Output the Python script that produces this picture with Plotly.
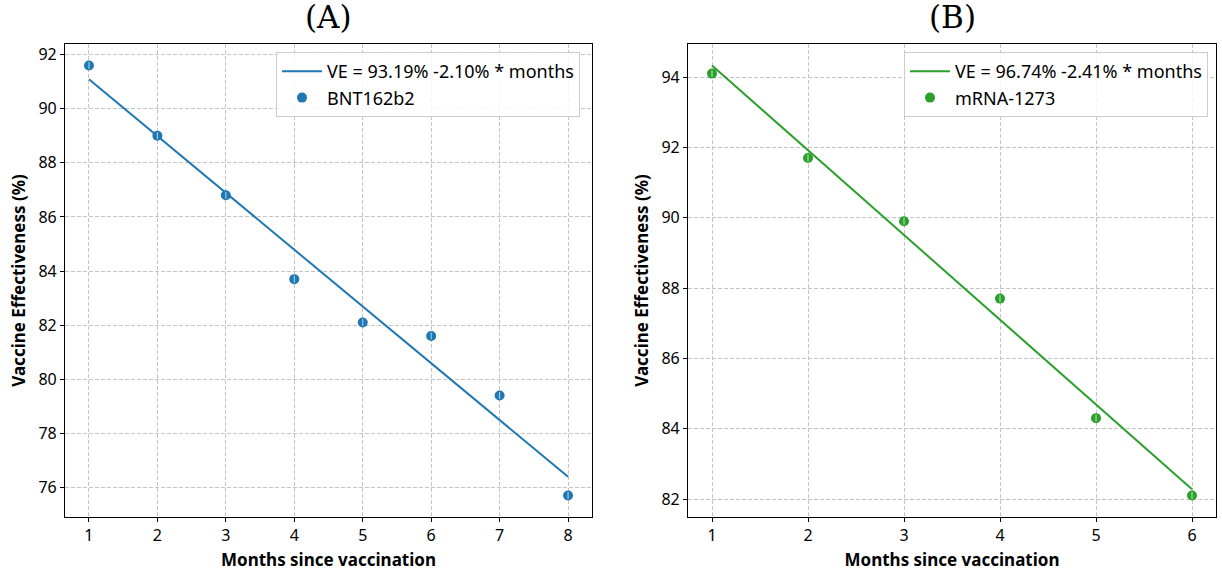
import plotly.graph_objects as go

# ---- data ----
months_a = [1, 2, 3, 4, 5, 6, 7, 8]
ve_a = [91.6, 89.0, 86.8, 83.7, 82.1, 81.6, 79.4, 75.7]
intercept_a, slope_a = 93.19, -2.10
label_a = "BNT162b2"

months_b = [1, 2, 3, 4, 5, 6]
ve_b = [94.1, 91.7, 89.9, 87.7, 84.3, 82.1]
intercept_b, slope_b = 96.74, -2.41
label_b = "mRNA-1273"

blue = "#1f77b4"
green = "#2ca02c"

W, H = 1222, 577
font_fam = "Noto Sans, DejaVu Sans, sans-serif"

fig = go.Figure()

def fit_line(xs, a, b):
    return [a + b * x for x in xs]

def add_panel(xs, ys, a, b, color, label, xa, ya, leg):
    fig.add_trace(go.Scatter(
        x=xs, y=fit_line(xs, a, b), mode="lines",
        line=dict(color=color, width=2),
        name=f"VE = {a:.2f}% {b:.2f}% * months",
        xaxis=xa, yaxis=ya, legend=leg))
    fig.add_trace(go.Scatter(
        x=xs, y=ys, mode="markers",
        marker=dict(color=color, size=10),
        name=label, xaxis=xa, yaxis=ya, legend=leg))
    # faint inner tick seen inside each marker
    fig.add_trace(go.Scatter(
        x=xs, y=ys, mode="markers",
        marker=dict(symbol="line-ns", size=5, line=dict(color="rgba(255,255,255,0.7)", width=1)),
        showlegend=False, hoverinfo="skip", xaxis=xa, yaxis=ya))

add_panel(months_a, ve_a, intercept_a, slope_a, blue, label_a, "x", "y", "legend")
add_panel(months_b, ve_b, intercept_b, slope_b, green, label_b, "x2", "y2", "legend2")

def px_x(p):
    return p / W

def px_y(p):
    return 1 - p / H

ydom = [px_y(517), px_y(44)]

axis_common = dict(
    showline=True, linecolor="black", linewidth=1.2, mirror=True,
    ticks="outside", ticklen=4, tickcolor="black", tickwidth=1,
    showgrid=True, gridcolor="#c4c4c4", griddash="4px,2px", gridwidth=1,
    zeroline=False, tickfont=dict(size=16, color="black", family=font_fam),
)
title_font = dict(size=17, color="black", family=font_fam, weight="bold")

def ax_range(lo, hi):
    m = (hi - lo) * 0.05
    return [lo - m, hi + m]

ya_all = ve_a + fit_line(months_a, intercept_a, slope_a)
yb_all = ve_b + fit_line(months_b, intercept_b, slope_b)

legend_common = dict(
    xanchor="right", yanchor="top",
    bgcolor="rgba(255,255,255,0.85)", bordercolor="#cccccc", borderwidth=1,
    font=dict(size=18, color="black", family=font_fam), itemwidth=40,
)

fig.update_layout(
    width=W, height=H,
    margin=dict(l=0, r=0, t=0, b=0),
    paper_bgcolor="white", plot_bgcolor="white",
    showlegend=True,
    xaxis=dict(domain=[px_x(65), px_x(592)], anchor="y",
               range=ax_range(min(months_a), max(months_a)),
               tickvals=months_a, title=dict(text="Months since vaccination", font=title_font, standoff=8),
               **axis_common),
    yaxis=dict(domain=ydom, anchor="x",
               range=ax_range(min(ya_all), max(ya_all)),
               tickvals=list(range(76, 93, 2)),
               title=dict(text="Vaccine Effectiveness (%)", font=title_font, standoff=8),
               **axis_common),
    xaxis2=dict(domain=[px_x(688), px_x(1216)], anchor="y2",
                range=ax_range(min(months_b), max(months_b)),
                tickvals=months_b, title=dict(text="Months since vaccination", font=title_font, standoff=8),
                **axis_common),
    yaxis2=dict(domain=ydom, anchor="x2",
                range=ax_range(min(yb_all), max(yb_all)),
                tickvals=list(range(82, 95, 2)),
                title=dict(text="Vaccine Effectiveness (%)", font=title_font, standoff=8),
                **axis_common),
    legend=dict(x=px_x(580), y=px_y(52), **legend_common),
    legend2=dict(x=px_x(1208), y=px_y(52), **legend_common),
    annotations=[
        dict(text="(A)", x=(px_x(65) + px_x(592)) / 2, y=px_y(17), xref="paper", yref="paper",
             showarrow=False, xanchor="center", yanchor="middle",
             font=dict(size=31, color="black", family="DejaVu Serif, Liberation Serif, serif")),
        dict(text="(B)", x=(px_x(688) + px_x(1216)) / 2, y=px_y(17), xref="paper", yref="paper",
             showarrow=False, xanchor="center", yanchor="middle",
             font=dict(size=31, color="black", family="DejaVu Serif, Liberation Serif, serif")),
    ],
)

fig.write_html("out.html")
